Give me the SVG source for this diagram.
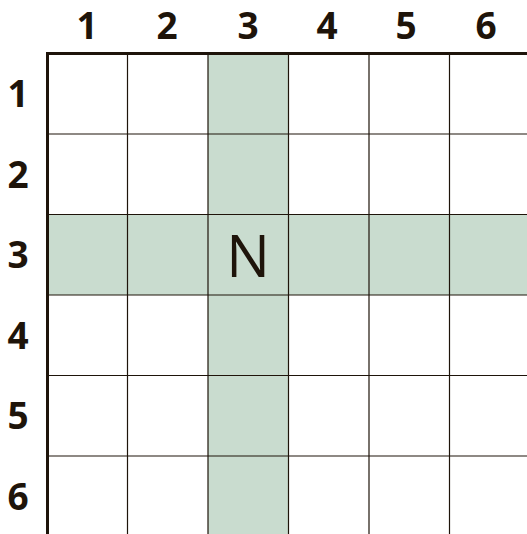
<svg xmlns="http://www.w3.org/2000/svg" width="527" height="534" viewBox="0 0 527 534">
<style>
.lbl{font-family:"Open Sans","Noto Sans",sans-serif;font-weight:bold;font-size:37px;fill:#1e140a;text-anchor:middle}
.hl{fill:#c9dccf}
.thin{stroke:#1e140a;stroke-width:1.2;fill:none}
.thick{stroke:#1e140a;stroke-width:3;fill:none}
</style>
<rect width="527" height="534" fill="#ffffff"/>
<g id="highlight">
<rect class="hl" x="208" y="53.5" width="80.5" height="481"/>
<rect class="hl" x="47" y="214.5" width="480" height="80.5"/>
</g>
<g id="grid">
<path class="thin" d="M127.5 53.5V534M208 53.5V534M288.5 53.5V534M369 53.5V534M449.5 53.5V534"/>
<path class="thin" d="M47 134H527M47 214.5H527M47 295H527M47 375.5H527M47 456H527"/>
<path class="thick" d="M47.5 534V53.5H527"/>
</g>
<g id="col-labels">
<text class="lbl" x="87" y="39">1</text>
<text class="lbl" x="167" y="39">2</text>
<text class="lbl" x="248" y="39">3</text>
<text class="lbl" x="327" y="39">4</text>
<text class="lbl" x="406" y="39">5</text>
<text class="lbl" x="486" y="39">6</text>
</g>
<g id="row-labels">
<text class="lbl" x="18" y="107">1</text>
<text class="lbl" x="18" y="188">2</text>
<text class="lbl" x="18" y="268">3</text>
<text class="lbl" x="18" y="349">4</text>
<text class="lbl" x="18" y="429">5</text>
<text class="lbl" x="18" y="510">6</text>
</g>
<g id="center">
<text x="248" y="277" style="font-family:'Open Sans','Noto Sans',sans-serif;font-size:58px;fill:#1e140a;text-anchor:middle">N</text>
</g>
</svg>
